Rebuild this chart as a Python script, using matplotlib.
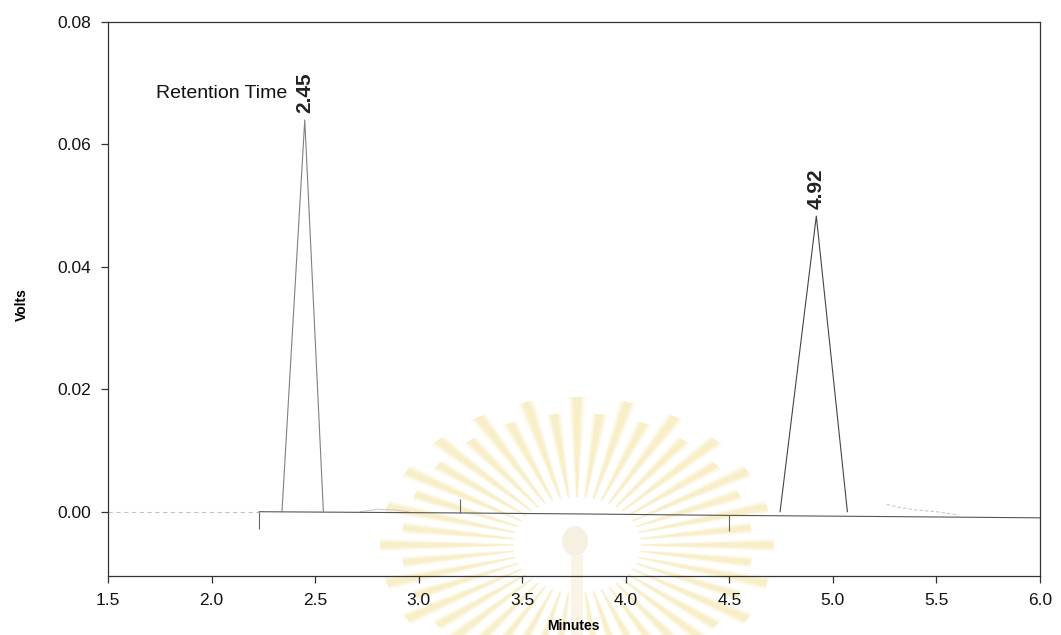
import numpy as np
import matplotlib.pyplot as plt
from matplotlib.patches import Polygon, Ellipse, Rectangle

plt.rcParams['font.family'] = ['Liberation Sans', 'DejaVu Sans']

# Peak table: retention time (min), apex height (V), leading / trailing half widths (min)
retention_times = [2.45, 4.92]
peak_heights = [0.064, 0.0483]
lead_widths = [0.11, 0.175]
tail_widths = [0.09, 0.15]

# Baseline trace (min, V)
base_time = [2.23, 3.20, 3.90, 4.50, 5.30, 6.00]
base_signal = [0.0, -0.0002, -0.0004, -0.0006, -0.0008, -0.0010]

# Unintegrated lead-in and small disturbances
lead_time = [1.50, 2.23]
lead_signal = [0.0, 0.0]
bump_time = [2.72, 2.80, 2.88, 2.95]
bump_signal = [0.0, 0.0004, 0.0003, 0.0]
tail_time = [5.26, 5.32, 5.40, 5.50, 5.60]
tail_signal = [0.0012, 0.0007, 0.0003, 0.0, -0.0005]

# Integration event marks: time, lower and upper level
event_time = [2.23, 3.20, 4.50]
event_low = [-0.0028, -0.0002, -0.0032]
event_high = [0.0, 0.0020, -0.0006]

x_ticks = [1.5, 2.0, 2.5, 3.0, 3.5, 4.0, 4.5, 5.0, 5.5, 6.0]
y_ticks = [0.00, 0.02, 0.04, 0.06, 0.08]

W, H = 1061, 635
fig = plt.figure(figsize=(W / 100, H / 100), dpi=100)

# soft sunburst emblem behind the plot (pixel coordinates)
bg = fig.add_axes([0, 0, 1, 1], zorder=0)
bg.set_xlim(0, W)
bg.set_ylim(H, 0)
bg.axis('off')
cx, cy = 577, 545
sx = 1.33
n_rays = 48
for i in range(n_rays):
    ang = 2 * np.pi * i / n_rays
    r_out = 148 if i % 2 == 0 else 132
    for width, alpha in [(0.045, 0.12), (0.032, 0.16), (0.02, 0.2)]:
        r_in = 48
        pts = [
            (cx + sx * r_in * np.cos(ang - width * 0.4), cy - r_in * np.sin(ang - width * 0.4)),
            (cx + sx * r_out * np.cos(ang - width), cy - r_out * np.sin(ang - width)),
            (cx + sx * r_out * np.cos(ang + width), cy - r_out * np.sin(ang + width)),
            (cx + sx * r_in * np.cos(ang + width * 0.4), cy - r_in * np.sin(ang + width * 0.4)),
        ]
        bg.add_patch(Polygon(pts, closed=True, facecolor='#f0d77c',
                             edgecolor='none', alpha=alpha))
bg.add_patch(Ellipse((cx - 2, cy - 4), 26, 30, facecolor='#f6f0e2', edgecolor='none'))
bg.add_patch(Rectangle((cx - 6, cy + 10), 12, 90, facecolor='#f9f4e6', edgecolor='none'))

ax = fig.add_axes([108 / W, 1 - 576 / H, (1040 - 108) / W, (576 - 22) / H], zorder=1)
ax.set_facecolor('none')

# faint lead-in and disturbances
ax.plot(lead_time, lead_signal, color='#c4c4c4', lw=0.8, ls=(0, (4, 3)))
ax.plot(bump_time, bump_signal, color='#cccccc', lw=0.8)
ax.plot(tail_time, tail_signal, color='#c8c8c8', lw=0.8, ls=(0, (3, 2)))

# integrated baseline
ax.plot(base_time, base_signal, color='#555555', lw=0.8)

# peaks drawn as triangles from baseline to apex
peak_colors = ['#808080', '#444444']
for rt, h, lw_, tw, c in zip(retention_times, peak_heights, lead_widths, tail_widths, peak_colors):
    t = [rt - lw_, rt, rt + tw]
    s = [0.0, h, 0.0]
    ax.plot(t, s, color=c, lw=0.8)
    ax.text(rt, h + 0.0012, f'{rt:.2f}', rotation=90, ha='center', va='bottom',
            fontsize=15, fontweight='bold', color='#222222')

ax.vlines(event_time, event_low, event_high, color='#666666', lw=0.8)

ax.text(1.73, 0.0683, 'Retention Time', ha='left', va='center',
        fontsize=14, color='#111111')

ax.set_xlim(1.5, 6.0)
ax.set_ylim(-0.0105, 0.08)
ax.set_xticks(x_ticks)
ax.set_xticklabels([f'{v:.1f}' for v in x_ticks])
ax.set_yticks(y_ticks)
ax.set_yticklabels([f'{v:.2f}' for v in y_ticks])
ax.tick_params(direction='out', length=5, width=0.9, colors='#333333',
               labelsize=12.5, labelcolor='#111111', pad=7)
for sp in ax.spines.values():
    sp.set_color('#333333')
    sp.set_linewidth(0.9)

fig.text(22 / W, 1 - 305 / H, 'Volts', rotation=90, ha='center', va='center',
         fontsize=10, fontweight='bold')
fig.text(573 / W, 1 - 626 / H, 'Minutes', ha='center', va='center',
         fontsize=10, fontweight='bold')

fig.savefig('out.png', dpi=100)
